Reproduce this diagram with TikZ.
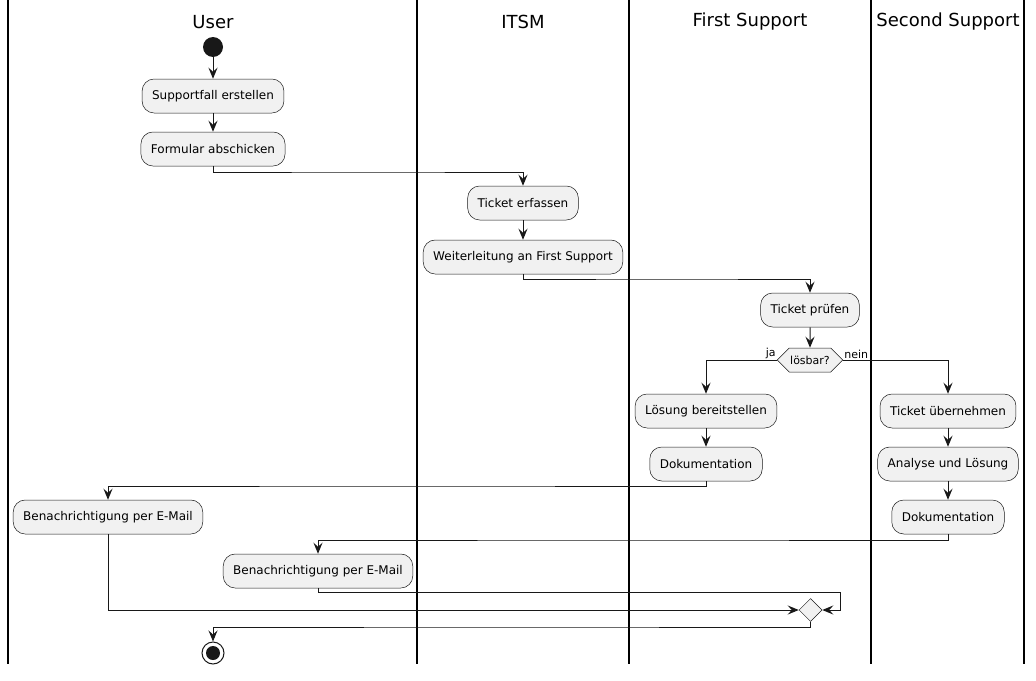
\documentclass[tikz,border=0pt]{standalone}
\usepackage{fontspec}
\setmainfont{DejaVu Sans}
\usetikzlibrary{arrows.meta,shapes.geometric,shapes.symbols}
\definecolor{ln}{HTML}{181818}
\definecolor{bx}{HTML}{F1F1F1}
\begin{document}
\begin{tikzpicture}[x=1pt,y=-1pt,
  act/.style={draw=ln,line width=0.5pt,fill=bx,rounded corners=12pt,minimum height=34pt,inner xsep=10pt,font=\fontsize{12}{14}\selectfont},
  lane/.style={draw=black,line width=1.5pt},
  ttl/.style={font=\fontsize{18}{20}\selectfont},
  flow/.style={draw=ln,line width=1pt,-{Stealth[length=11pt,width=9pt,inset=4pt]}},
  lbl/.style={font=\fontsize{11}{12}\selectfont,inner sep=1pt}]
\useasboundingbox (0,0) rectangle (1036,680);
% lanes
\foreach \x in {8,417,629,871,1024} \draw[lane] (\x,0) -- (\x,664);
\node[ttl] (tU) at (213,22) {User};
\node[ttl] (tI) at (523,22) {ITSM};
\node[ttl] (tF) at (750,22) {First Support};
\node[ttl] (tS) at (948,22) {Second Support};
% nodes
\node[circle,fill=ln,minimum size=20pt,inner sep=0] (start) at (213,47) {};
\node[act] (a1) at (213,96) {Supportfall erstellen};
\node[act] (a2) at (213,149) {Formular abschicken};
\node[act] (b1) at (523,203) {Ticket erfassen};
\node[act] (b2) at (523,257) {Weiterleitung an First Support};
\node[act] (c1) at (810,310) {Ticket prüfen};
\node[signal,signal to=west and east,draw=ln,line width=0.5pt,fill=bx,minimum height=24pt,minimum width=63pt,inner sep=1pt,font=\fontsize{11}{12}\selectfont] (dec) at (810,360) {lösbar?};
\node[act] (c2) at (706,411) {Lösung bereitstellen};
\node[act] (c3) at (706,464) {Dokumentation};
\node[act] (d1) at (948,411) {Ticket übernehmen};
\node[act] (d2) at (948,464) {Analyse und Lösung};
\node[act] (d3) at (948,517) {Dokumentation};
\node[act] (u3) at (108,517) {Benachrichtigung per E-Mail};
\node[act] (i3) at (318,571) {Benachrichtigung per E-Mail};
\node[diamond,draw=ln,line width=0.5pt,fill=bx,minimum width=23pt,minimum height=23pt,inner sep=0] (mrg) at (810.5,610) {};
\node[circle,draw=ln,line width=1pt,fill=white,minimum size=22pt,inner sep=0] (stop) at (213,653) {};
\node[circle,fill=ln,minimum size=14pt,inner sep=0] (stopi) at (stop) {};
\node[lbl,anchor=south east] (lja) at (dec.west) {ja};
\node[lbl,anchor=south west] (lnein) at (dec.east) {nein};
% connectors
\draw[flow] (start) -- (a1);
\draw[flow] (a1) -- (a2);
\draw[flow] (a2.south) |- (368,172) -| (b1.north);
\draw[flow] (b1) -- (b2);
\draw[flow] (b2.south) |- (667,279) -| (c1.north);
\draw[flow] (c1) -- (dec);
\draw[flow] (dec.west) -| (c2.north);
\draw[flow] (dec.east) -| (d1.north);
\draw[flow] (c2) -- (c3);
\draw[flow] (d1) -- (d2);
\draw[flow] (d2) -- (d3);
\draw[flow] (c3.south) |- (407,486) -| (u3.north);
\draw[flow] (d3.south) |- (633,540) -| (i3.north);
\draw[flow] (u3.south) |- (mrg.west);
\coordinate (ir) at (840,592);
\draw[flow] (i3.south) |- (ir) |- (mrg.east);
\draw[flow] (mrg.south) |- (511,627) -| (stop.north);
\end{tikzpicture}
\end{document}
